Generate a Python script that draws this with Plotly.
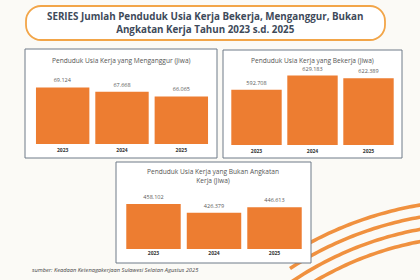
import math
import plotly.graph_objects as go

W, H = 420, 280

# ---- data ----
years = ["2023", "2024", "2025"]
menganggur = [69124, 67668, 66065]
bekerja = [592708, 629183, 622389]
bukan_ak = [458102, 426379, 446613]

main_title = "SERIES Jumlah Penduduk Usia Kerja Bekerja, Menganggur, Bukan<br>Angkatan Kerja Tahun 2023 s.d. 2025"
title_1 = "Penduduk Usia Kerja yang Menganggur (Jiwa)"
title_2 = "Penduduk Usia Kerja yang Bekerja (Jiwa)"
title_3 = "Penduduk Usia Kerja yang Bukan Angkatan<br>Kerja (Jiwa)"
source = "sumber: Keadaan Ketenagakerjaan Sulawesi Selatan Agustus 2025"

ORANGE = "#ED7D31"
BG = "#FBFAF6"
BORDER = "#6E7A88"
FONT = "Open Sans"


def px(x):
    return x / W


def py(y):
    return 1 - y / H


def fmt(v):
    return f"{v:,}".replace(",", ".")


fig = go.Figure()

panels = [
    (menganggur, "", (33, 211), (70, 144), (50000, 75000)),
    (bekerja, "2", (228.5, 396.5), (70, 145), (452000, 643300)),
    (bukan_ak, "3", (123.25, 304.75), (190, 249), (294000, 509300)),
]

layout_axes = {}
for vals, suf, (x0, x1), (ytop, ybot), yr in panels:
    fig.add_trace(go.Bar(
        x=years, y=vals, marker=dict(color=ORANGE, line=dict(width=0)),
        text=[fmt(v) for v in vals], textposition="outside",
        textfont=dict(family=FONT, size=5.5, color="#5A5A5A"),
        cliponaxis=False, xaxis="x" + suf, yaxis="y" + suf, showlegend=False,
        hoverinfo="skip",
    ))
    layout_axes["xaxis" + suf] = dict(
        domain=[px(x0), px(x1)], anchor="y" + suf, showgrid=False, zeroline=False,
        showline=False, ticks="", tickfont=dict(family=FONT, size=5, color="#333333", weight="bold"),
        ticklabelstandoff=2 if suf != "3" else 0, fixedrange=True,
    )
    layout_axes["yaxis" + suf] = dict(
        domain=[py(ybot), py(ytop)], anchor="x" + suf, range=list(yr), visible=False,
        fixedrange=True,
    )

shapes = []

# decorative arcs (bottom right)
cx, cy = 480, 560
for r in [360, 348, 336, 324]:
    pts = []
    for k in range(41):
        x = 290 + k * (140 / 40)
        y = cy - math.sqrt(max(r * r - (x - cx) ** 2, 0))
        pts.append((x, y))
    path = "M " + " L ".join(f"{px(x):.5f},{py(y):.5f}" for x, y in pts)
    shapes.append(dict(type="path", xref="paper", yref="paper", path=path,
                       line=dict(color="#F0913F", width=3.6), layer="below"))

# title box (rounded)
bx0, bx1, by0, by1, r = 26, 385, 6, 40, 15
k = 0.55 * r
tpath = (
    f"M {px(bx0 + r)},{py(by0)} L {px(bx1 - r)},{py(by0)} "
    f"C {px(bx1 - r + k)},{py(by0)} {px(bx1)},{py(by0 + r - k)} {px(bx1)},{py(by0 + r)} "
    f"L {px(bx1)},{py(by1 - r)} "
    f"C {px(bx1)},{py(by1 - r + k)} {px(bx1 - r + k)},{py(by1)} {px(bx1 - r)},{py(by1)} "
    f"L {px(bx0 + r)},{py(by1)} "
    f"C {px(bx0 + r - k)},{py(by1)} {px(bx0)},{py(by1 - r + k)} {px(bx0)},{py(by1 - r)} "
    f"L {px(bx0)},{py(by0 + r)} "
    f"C {px(bx0)},{py(by0 + r - k)} {px(bx0 + r - k)},{py(by0)} {px(bx0 + r)},{py(by0)} Z"
)
shapes.append(dict(type="path", xref="paper", yref="paper", path=tpath,
                   fillcolor="#FFFFFF", line=dict(color="#F2A548", width=1.8), layer="below"))

# panel frames
for (x0, y0, x1, y1) in [(25, 49, 217, 158), (223, 50, 402, 158), (116, 162, 311, 263)]:
    shapes.append(dict(type="rect", xref="paper", yref="paper",
                       x0=px(x0), x1=px(x1), y0=py(y1), y1=py(y0),
                       fillcolor="#FFFFFF", line=dict(color=BORDER, width=1), layer="below"))


def ann(text, x, y, size, color, xanchor="center", align="center"):
    return dict(text=text, x=px(x), y=py(y), xref="paper", yref="paper", showarrow=False,
                xanchor=xanchor, yanchor="middle", align=align,
                font=dict(family=FONT, size=size, color=color))


annotations = [
    ann("<b>" + main_title + "</b>", 205, 23, 9.8, "#3E4A5A"),
    ann(title_1, 121.5, 60, 6.6, "#555555"),
    ann(title_2, 312, 60, 6.6, "#555555"),
    ann(title_3, 213, 176, 6.6, "#555555"),
    ann("<i>" + source + "</i>", 30, 270, 5.7, "#444444", xanchor="left", align="left"),
]

fig.update_layout(
    width=W, height=H, autosize=False, margin=dict(l=0, r=0, t=0, b=0, pad=0),
    paper_bgcolor=BG, plot_bgcolor="rgba(0,0,0,0)", bargap=0.1,
    shapes=shapes, annotations=annotations, showlegend=False,
    **layout_axes,
)

fig.write_html("out.html", config={"displayModeBar": False})
